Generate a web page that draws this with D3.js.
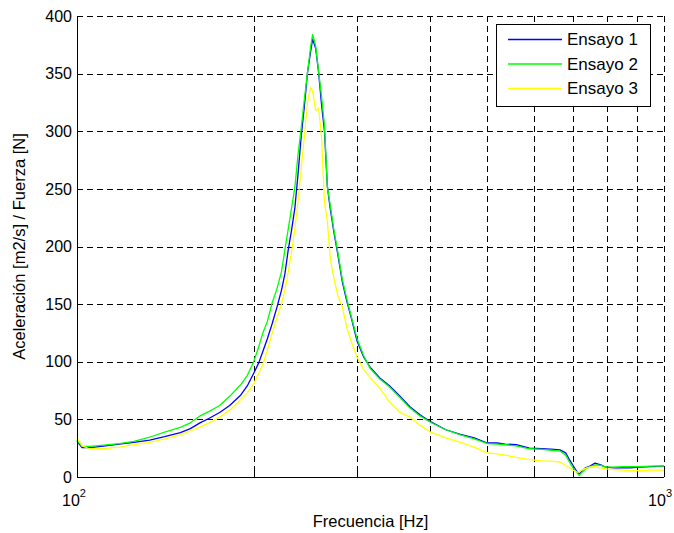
<!DOCTYPE html>
<meta charset="utf-8">
<style>
    body { margin: 0; background: #fff; }
    svg { font-family: "Liberation Sans", Arial, sans-serif; }
    .grid line {
        stroke: #000;
        stroke-dasharray: 6,4;
        shape-rendering: crispEdges;
    }
    .axis path, .axis line {
        stroke: #000;
        shape-rendering: crispEdges;
    }
    .line {
        fill: none;
        stroke-width: 1.3px;
        stroke-linejoin: round;
    }
</style>
<svg width="674" height="533"></svg>
<script src="https://cdnjs.cloudflare.com/ajax/libs/d3/7.8.5/d3.min.js"></script>
<script>
    // frequency points (Hz)
    const freq = [100, 102, 105, 110, 118, 125, 133, 141, 150, 156, 162, 168, 175, 182, 190, 195,
        200, 204, 207, 211, 215, 219, 223, 226, 229, 232, 235, 238, 241, 244, 247, 250, 252, 255,
        258, 261, 264, 267, 270, 274, 278, 283, 288, 294, 300, 308, 316, 328, 341, 355, 369, 384,
        400, 425, 450, 475, 500, 520, 536, 560, 590, 620, 650, 665, 680, 690, 700, 710, 717, 725,
        735, 748, 763, 780, 795, 820, 850, 875, 910, 950, 1000];

    const ensayo1 = [31, 25.5, 25.5, 26.5, 28.5, 30, 32, 35, 38.5, 42, 47, 51, 56, 62, 71, 79,
        90, 99, 108, 120, 133, 147, 162, 176, 197, 214, 233, 263, 296, 322, 351, 369, 380, 372,
        351, 323, 300, 252, 233, 212, 194, 170, 153, 136, 118, 104, 95, 86, 79, 70, 61, 54,
        48, 41, 37, 34, 29.5, 29.5, 28.6, 28, 25, 24.5, 24, 23.5, 21, 15, 10, 5, 2.5, 5,
        8, 9.5, 12, 10.5, 8.7, 8, 8, 8, 8.5, 9, 9.5];

    const ensayo2 = [32, 26.5, 26.5, 27.5, 29, 31, 34.5, 39, 43, 47, 53, 57, 62, 70, 80, 88,
        100, 113, 124, 135, 151, 163, 178, 197, 215, 233, 251, 280, 303, 328, 351, 373, 384, 374,
        352, 330, 305, 252, 236, 214, 196, 172, 155, 137, 120, 105, 94, 85, 78, 69, 60, 53,
        47.5, 41, 36.5, 33, 29, 28.5, 28, 27, 24.5, 24, 23, 22.5, 19, 13, 8, 4, 1.5, 4,
        7, 8.7, 10.5, 10, 8.7, 8.5, 9, 9, 9, 9.5, 9.5];

    const ensayo3 = [34, 27, 24.5, 24.5, 26, 28, 30, 33, 36.5, 40, 43.5, 47, 52, 58, 67, 73,
        81, 90, 97, 110, 125, 138, 150, 162, 178, 195, 215, 240, 268, 296, 325, 338, 335, 318,
        320, 295, 238, 222, 190, 172, 158, 148, 130, 116, 104, 93, 86, 77, 65, 56, 52, 45,
        39, 34, 30, 26, 21, 20, 19, 17, 15, 14, 13.5, 13, 10, 8, 6, 4.3, 4.5, 6,
        7.5, 8.7, 9, 8, 7, 6.5, 6, 5.5, 5.5, 6, 6];

    const seriesNames = ["Ensayo 1", "Ensayo 2", "Ensayo 3"];
    const seriesColors = ["#0000ff", "#00ff00", "#ffff00"];
    const yTicks = [0, 50, 100, 150, 200, 250, 300, 350, 400];
    const xGrid = [200, 300, 400, 500, 600, 700, 800, 900, 1000];
    const xDecades = [{ v: 100, e: "2" }, { v: 1000, e: "3" }];

    var svg = d3.select("svg"),
        margin = { top: 16, right: 10, bottom: 56, left: 77 },
        width = svg.attr("width") - margin.left - margin.right,
        height = svg.attr("height") - margin.top - margin.bottom,
        g = svg.append("g").attr("transform", "translate(" + margin.left + "," + margin.top + ")");

    var x = d3.scaleLog().domain([100, 1000]).range([0, width]),
        y = d3.scaleLinear().domain([0, 400]).range([height, 0]);

    var series = [ensayo1, ensayo2, ensayo3].map(function(vals, i) {
        return {
            id: seriesNames[i],
            color: seriesColors[i],
            values: freq.map(function(f, j) { return { f: f, v: vals[j] }; })
        };
    });

    // grid
    var grid = g.append("g").attr("class", "grid");
    grid.selectAll(".gx").data(xGrid).enter().append("line")
        .attr("x1", d => Math.round(x(d)) + 0.5).attr("x2", d => Math.round(x(d)) + 0.5)
        .attr("y1", 0).attr("y2", height);
    grid.selectAll(".gy").data(yTicks.slice(1)).enter().append("line")
        .attr("y1", d => Math.round(y(d)) + 0.5).attr("y2", d => Math.round(y(d)) + 0.5)
        .attr("x1", 0).attr("x2", width);

    // lines
    var line = d3.line()
        .x(d => x(d.f))
        .y(d => y(d.v));

    g.selectAll(".line").data(series).enter().append("path")
        .attr("class", "line")
        .attr("d", d => line(d.values))
        .style("stroke", d => d.color);

    // axes
    g.append("g")
        .attr("class", "axis")
        .attr("transform", "translate(0," + height + ")")
        .call(d3.axisBottom(x).tickValues(xGrid.concat([100])).tickSize(-5).tickFormat(""))
        .call(a => a.select(".domain").attr("d", "M0.5,0.5H" + width));

    g.append("g")
        .attr("class", "axis")
        .call(d3.axisLeft(y).tickValues(yTicks).tickSize(-5).tickPadding(6))
        .call(a => a.select(".domain").attr("d", "M0.5,0V" + (height + 0.5)))
        .call(a => a.selectAll("text").style("font-size", "16px").attr("fill", "#000").attr("x", -5));

    // decade labels 10^n (the last one kept inside the page)
    var dl = g.append("g").selectAll("text").data(xDecades).enter().append("text")
        .attr("x", d => d.v === 100 ? x(d.v) - 3 : x(d.v) + 8)
        .attr("y", height + 29)
        .attr("text-anchor", d => d.v === 100 ? "middle" : "end")
        .style("font-size", "16px");
    dl.append("tspan").text("10");
    dl.append("tspan").attr("dy", -9).style("font-size", "11px").text(d => d.e);

    // axis titles
    svg.append("text")
        .attr("x", margin.left + width / 2)
        .attr("y", 527)
        .attr("text-anchor", "middle")
        .style("font-size", "16.5px")
        .text("Frecuencia [Hz]");

    svg.append("text")
        .attr("transform", "translate(25," + (margin.top + height / 2) + ") rotate(-90)")
        .attr("text-anchor", "middle")
        .style("font-size", "16.5px")
        .text("Aceleración [m2/s] / Fuerza [N]");

    // legend
    var lg = svg.append("g").attr("transform", "translate(496,24)");
    lg.append("rect")
        .attr("x", 0.5).attr("y", 0.5)
        .attr("width", 154).attr("height", 82)
        .attr("fill", "#fff").attr("stroke", "#000");
    var items = lg.selectAll(".item").data(series).enter().append("g")
        .attr("transform", (d, i) => "translate(0," + (15.5 + i * 24.5) + ")");
    items.append("line")
        .attr("x1", 12).attr("x2", 66)
        .attr("stroke", d => d.color).attr("stroke-width", 1.3);
    items.append("text")
        .attr("x", 71).attr("dy", "0.35em")
        .style("font-size", "17px")
        .text(d => d.id);
</script>
